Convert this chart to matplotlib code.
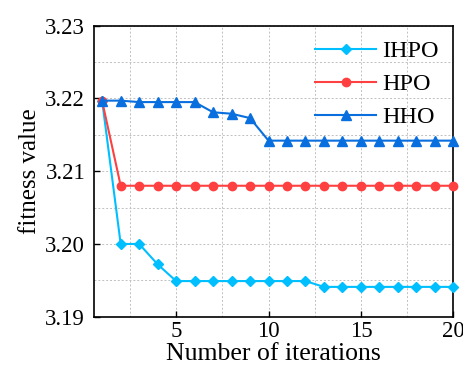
import numpy as np
import matplotlib
matplotlib.use('Agg')
import matplotlib.pyplot as plt
from matplotlib.ticker import MultipleLocator

plt.rcParams['font.family'] = ['Liberation Serif', 'DejaVu Serif']
plt.rcParams['mathtext.fontset'] = 'stix'

iterations = np.arange(1, 21)

ihpo = [3.2196, 3.2000, 3.2000, 3.1972, 3.1949, 3.1949, 3.1949, 3.1949, 3.1949, 3.1949,
        3.1949, 3.1949, 3.1941, 3.1941, 3.1941, 3.1941, 3.1941, 3.1941, 3.1941, 3.1941]
hpo = [3.2196] + [3.2080] * 19
hho = [3.2197, 3.2197, 3.2195, 3.2195, 3.2195, 3.2195, 3.2181, 3.2179, 3.2173, 3.2142,
       3.2142, 3.2142, 3.2142, 3.2142, 3.2142, 3.2142, 3.2142, 3.2142, 3.2142, 3.2142]

fig = plt.figure(figsize=(4.63, 3.67), dpi=100)
ax = fig.add_axes([0.202, 0.137, 0.777, 0.793])

ax.plot(iterations, ihpo, color='#00BFFF', marker='D', markersize=5.5, lw=1.5, label='IHPO', clip_on=False, zorder=3)
ax.plot(iterations, hpo, color='#FF4040', marker='o', markersize=6, lw=1.5, label='HPO', clip_on=False, zorder=3)
ax.plot(iterations, hho, color='#0A6FDE', marker='^', markersize=6.5, lw=1.5, label='HHO', clip_on=False, zorder=3)

ax.set_xlim(0.53, 20)
ax.set_ylim(3.19, 3.23)
ax.xaxis.set_major_locator(MultipleLocator(5))
ax.xaxis.set_minor_locator(MultipleLocator(2.5))
ax.yaxis.set_major_locator(MultipleLocator(0.01))
ax.yaxis.set_minor_locator(MultipleLocator(0.005))
ax.yaxis.set_major_formatter(matplotlib.ticker.FormatStrFormatter('%.2f'))

ax.grid(which='both', color='#c0c0c0', linestyle=(0, (2, 2)), linewidth=0.7)
ax.tick_params(which='major', direction='in', length=4, labelsize=16.5, width=1, pad=3)
ax.tick_params(axis='y', pad=6)
ax.tick_params(which='minor', length=0)
for s in ax.spines.values():
    s.set_linewidth(1.2)

ax.set_xlabel('Number of iterations', fontsize=18.5, labelpad=1)
ax.set_ylabel('fitness value', fontsize=18, labelpad=3)

leg = ax.legend(loc='upper right', fontsize=17.5, frameon=False, handlelength=2.5,
                borderaxespad=0.2, labelspacing=0.45, handletextpad=0.25)

fig.savefig('out.png', dpi=100)
